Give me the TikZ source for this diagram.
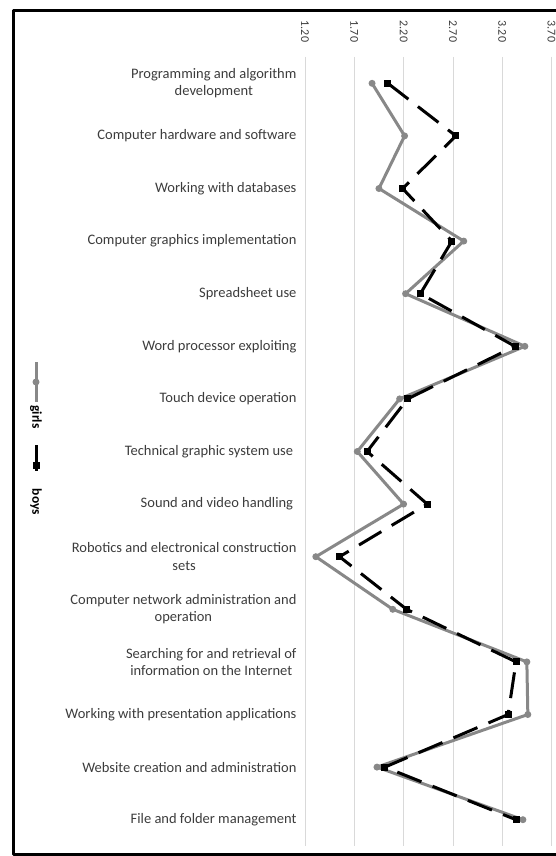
\documentclass[tikz,border=0pt]{standalone}
\usepackage{fontspec}
\setmainfont{Carlito}
\definecolor{girlgray}{RGB}{136,136,136}
\definecolor{gridgray}{RGB}{217,217,217}
\definecolor{labelgray}{RGB}{60,60,60}
\tikzset{
	grid line/.style = {gridgray, line width=0.8pt},
	girls line/.style = {girlgray, line width=3pt, line join=round},
	boys line/.style = {black, line width=3pt, line cap=butt, dash pattern=on 26pt off 12pt},
	tick label/.style = {rotate=-90, inner sep=0pt, text=labelgray, font=\fontsize{12}{14}\selectfont},
	cat label/.style = {anchor=east, align=center, inner sep=0pt, text=labelgray, font=\fontsize{14.5}{17.5}\selectfont},
	key label/.style = {rotate=-90, inner sep=0pt, font=\fontsize{13.5}{16}\selectfont\bfseries}
}
\begin{document}
\begin{tikzpicture}[x=1pt, y=-1pt, line join=round]
	\useasboundingbox (0,0) rectangle (556,856);
	% frame
	\draw[line width=3pt] (560,11) -- (13,11) -- (13,854) -- (560,854);
	% chart area
	\begin{scope}[x=98.6pt, y=-52.6pt, shift={(186.68pt,-30.7pt)}]
		\foreach \v/\t [count=\n] in {1.2/1.20, 1.7/1.70, 2.2/2.20, 2.7/2.70, 3.2/3.20, 3.7/3.70}{
			\draw[grid line] (\v,0.5) coordinate (top\n) -- (\v,15.5);
			\node[tick label] (tick\n) at ([yshift=25.5pt]top\n) {\t};
		}
		\foreach \i/\txt in {1/{Programming and algorithm\\development},
			2/Computer hardware and software,
			3/Working with databases,
			4/Computer graphics implementation,
			5/Spreadsheet use,
			6/Word processor exploiting,
			7/Touch device operation,
			8/Technical graphic system use~,
			9/Sound and video handling~,
			10/{Robotics and electronical construction\\sets},
			11/{Computer network administration and\\operation},
			12/{Searching for and retrieval of\\information on the Internet~},
			13/Working with presentation applications,
			14/Website creation and administration,
			15/File and folder management}
			\node[cat label] (c\i) at (1.115,\i) {\txt};
		\path
		(1.88,1) coordinate (g1)   (2.04,1) coordinate (b1)
		(2.21,2) coordinate (g2)   (2.73,2) coordinate (b2)
		(1.95,3) coordinate (g3)   (2.19,3) coordinate (b3)
		(2.81,4) coordinate (g4)   (2.69,4) coordinate (b4)
		(2.22,5) coordinate (g5)   (2.37,5) coordinate (b5)
		(3.43,6) coordinate (g6)   (3.33,6) coordinate (b6)
		(2.16,7) coordinate (g7)   (2.24,7) coordinate (b7)
		(1.73,8) coordinate (g8)   (1.83,8) coordinate (b8)
		(2.20,9) coordinate (g9)   (2.44,9) coordinate (b9)
		(1.31,10) coordinate (g10) (1.55,10) coordinate (b10)
		(2.09,11) coordinate (g11) (2.23,11) coordinate (b11)
		(3.45,12) coordinate (g12) (3.34,12) coordinate (b12)
		(3.46,13) coordinate (g13) (3.26,13) coordinate (b13)
		(1.93,14) coordinate (g14) (2.01,14) coordinate (b14)
		(3.41,15) coordinate (g15) (3.34,15) coordinate (b15)
		;
		% girls
		\draw[girls line] (g1) -- (g2) -- (g3) -- (g4) -- (g5) -- (g6) -- (g7) -- (g8)
			-- (g9) -- (g10) -- (g11) -- (g12) -- (g13) -- (g14) -- (g15);
		\foreach \i in {1,...,15}
			\fill[girlgray] (g\i) circle (3.5pt);
		% boys
		\draw[boys line] (b1) -- (b2) -- (b3) -- (b4) -- (b5) -- (b6) -- (b7) -- (b8)
			-- (b9) -- (b10) -- (b11) -- (b12) -- (b13) -- (b14) -- (b15);
		\foreach \i in {1,...,15}
			\fill (b\i) ++(-3.5pt,-3.5pt) rectangle ++(7pt,7pt);
	\end{scope}
	% legend
	\path
	(36,362) coordinate (gkA)
	(36,402) coordinate (gkB)
	(36,382) coordinate (gkM)
	(36,445) coordinate (bkA)
	(36,472) coordinate (bkB)
	(36,465) coordinate (bkM)
	;
	\draw[girls line] (gkA) -- (gkB);
	\fill[girlgray] (gkM) circle (3.5pt);
	\node[key label] (girls) at (36,417) {girls};
	\draw[boys line] (bkA) -- (bkB);
	\fill (bkM) ++(-3.5pt,-3.5pt) rectangle ++(7pt,7pt);
	\node[key label] (boys) at (36,502) {boys};
\end{tikzpicture}
\end{document}
